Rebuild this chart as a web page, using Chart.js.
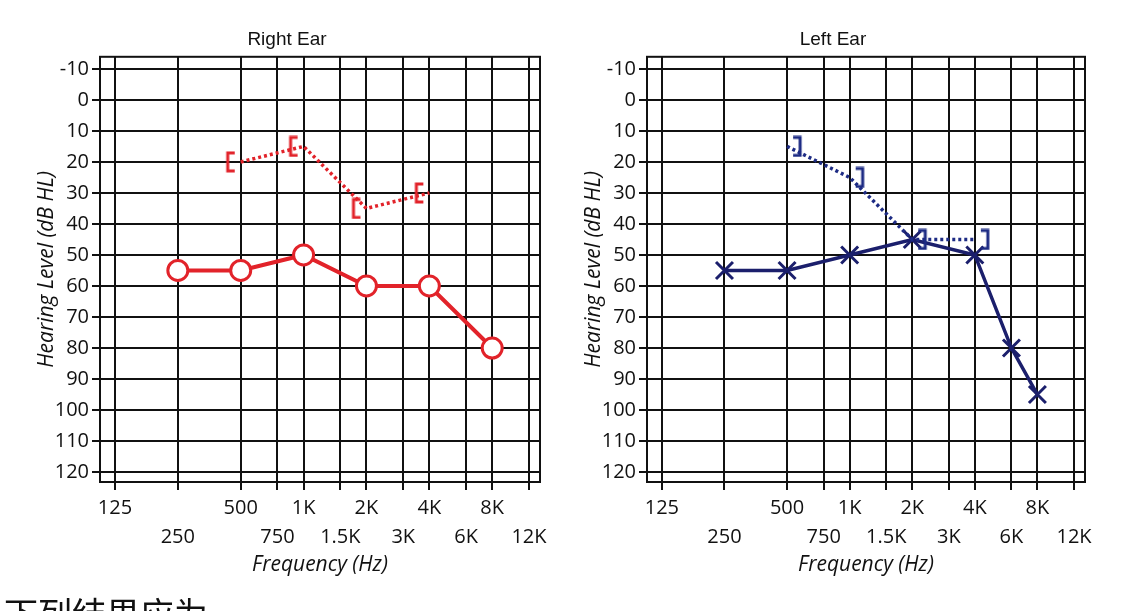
<!DOCTYPE html>
<html>
<head>
<meta charset="utf-8">
<script src="https://cdn.jsdelivr.net/npm/chart.js@4.4.0/dist/chart.umd.min.js"></script>
<style>
    html, body { margin: 0; padding: 0; background: #fff; overflow: hidden; }
    body { width: 1130px; height: 611px; position: relative; }
    .panel { position: absolute; top: 0; height: 611px; }
    #right-wrap { left: 0; width: 560px; }
    #left-wrap { left: 547px; width: 558px; }
    #caption { position: absolute; left: 4px; top: 596px; font-family: "Noto Sans CJK SC"; font-size: 34px; line-height: 1; white-space: nowrap; color: #111; }
</style>
</head>
<body>
<div class="panel" id="right-wrap"><canvas id="chart-right" width="560" height="611"></canvas></div>
<div class="panel" id="left-wrap"><canvas id="chart-left" width="558" height="611"></canvas></div>
<div id="caption">下列结果应为</div>
<script>
// axis ticks
const freqTicks = [125, 250, 500, 750, 1000, 1500, 2000, 3000, 4000, 6000, 8000, 12000];
const freqLabels = ['125', '250', '500', '750', '1K', '1.5K', '2K', '3K', '4K', '6K', '8K', '12K'];
const levelTicks = [-10, 0, 10, 20, 30, 40, 50, 60, 70, 80, 90, 100, 110, 120];

// right ear (O = air, [ = masked bone)
const rightAirFreq = [250, 500, 1000, 2000, 4000, 8000];
const rightAirDb = [55, 55, 50, 60, 60, 80];
const rightBoneFreq = [500, 1000, 2000, 4000];
const rightBoneDb = [20, 15, 35, 30];

// left ear (X = air, ] = masked bone)
const leftAirFreq = [250, 500, 1000, 2000, 4000, 6000, 8000];
const leftAirDb = [55, 55, 50, 45, 50, 80, 95];
const leftBoneFreq = [500, 1000, 2000, 4000];
const leftBoneDb = [15, 25, 45, 45];

const RED = '#e2232a';
const NAVY = '#1b1f6c';
const NAVY_DOT = '#1d2b84';
const INK = '#111';

function toPoints(xs, ys) {
    return xs.map((x, i) => ({ x, y: ys[i] }));
}

// bracket marker drawn beside the point: '[' on the left, ']' on the right
function makeBracket(color, side) {
    const c = document.createElement('canvas');
    c.width = 32;
    c.height = 22;
    const g = c.getContext('2d');
    g.strokeStyle = color;
    g.lineWidth = 3;
    const stem = side === 'left' ? 3 : 29;
    const arm = side === 'left' ? 10 : 22;
    g.beginPath();
    g.moveTo(arm, 2);
    g.lineTo(stem, 2);
    g.lineTo(stem, 20);
    g.lineTo(arm, 20);
    g.stroke();
    return c;
}

const framePlugin = {
    id: 'frame',
    beforeDatasetsDraw(chart) {
        const { ctx, chartArea: a } = chart;
        ctx.save();
        ctx.strokeStyle = INK;
        ctx.lineWidth = 2;
        ctx.strokeRect(a.left, a.top, a.right - a.left, a.bottom - a.top);
        ctx.restore();
    }
};

function buildAudiogram(canvasId, title, datasets) {
    const ctx = document.getElementById(canvasId);
    const tickFont = { family: '"Open Sans"', size: 20, lineHeight: 1.45 };
    const titleFont = { family: '"Open Sans"', size: 21, style: 'italic' };
    new Chart(ctx, {
        type: 'line',
        data: { datasets },
        plugins: [framePlugin],
        options: {
            responsive: false,
            animation: false,
            devicePixelRatio: 1,
            layout: { padding: { left: 34, right: 20, top: 0, bottom: 0 } },
            plugins: {
                legend: { display: false },
                tooltip: { enabled: false },
                title: {
                    display: true,
                    text: title,
                    color: '#111',
                    font: { family: '"Liberation Sans"', size: 19, weight: 'normal' },
                    padding: { top: 28, bottom: 6 }
                }
            },
            scales: {
                x: {
                    type: 'logarithmic',
                    min: 106,
                    max: 13550,
                    afterBuildTicks: s => { s.ticks = freqTicks.map(v => ({ value: v })); },
                    afterFit: s => { s.height = 129; },
                    grid: { color: INK, lineWidth: 2, tickLength: 8, tickColor: INK },
                    border: { display: false },
                    ticks: {
                        autoSkip: false,
                        maxRotation: 0,
                        minRotation: 0,
                        padding: 4,
                        color: INK,
                        font: tickFont,
                        callback: (v, i) => i % 2 === 0 ? [freqLabels[i], ''] : ['', freqLabels[i]]
                    },
                    title: {
                        display: true,
                        text: 'Frequency (Hz)',
                        color: INK,
                        font: titleFont,
                        padding: { top: 0, bottom: 33 }
                    }
                },
                y: {
                    type: 'linear',
                    reverse: true,
                    min: -13.9,
                    max: 123.2,
                    afterBuildTicks: s => { s.ticks = levelTicks.map(v => ({ value: v })); },
                    afterFit: s => { s.width = 66; },
                    grid: { color: INK, lineWidth: 2, tickLength: 8, tickColor: INK },
                    border: { display: false },
                    ticks: {
                        padding: 3,
                        color: INK,
                        font: { family: '"Open Sans"', size: 20 },
                        callback: v => String(v)
                    },
                    title: {
                        display: true,
                        text: 'Hearing Level (dB HL)',
                        color: INK,
                        font: titleFont,
                        padding: { top: 0, bottom: 0 }
                    }
                }
            }
        }
    });
}

buildAudiogram('chart-right', 'Right Ear', [
    {
        label: 'Bone (masked)',
        data: toPoints(rightBoneFreq, rightBoneDb),
        borderColor: RED,
        borderWidth: 3.5,
        borderDash: [3, 3],
        pointStyle: makeBracket(RED, 'left'),
        pointRadius: 6
    },
    {
        label: 'Air',
        data: toPoints(rightAirFreq, rightAirDb),
        borderColor: RED,
        borderWidth: 4,
        pointStyle: 'circle',
        pointRadius: 10,
        pointBorderWidth: 3,
        pointBorderColor: RED,
        pointBackgroundColor: '#fff'
    }
]);

buildAudiogram('chart-left', 'Left Ear', [
    {
        label: 'Bone (masked)',
        data: toPoints(leftBoneFreq, leftBoneDb),
        borderColor: NAVY_DOT,
        borderWidth: 3.5,
        borderDash: [3, 3],
        pointStyle: makeBracket(NAVY_DOT, 'right'),
        pointRadius: 6
    },
    {
        label: 'Air',
        data: toPoints(leftAirFreq, leftAirDb),
        borderColor: NAVY,
        borderWidth: 3.5,
        pointStyle: 'crossRot',
        pointRadius: 12,
        pointBorderWidth: 3,
        pointBorderColor: NAVY,
        pointBackgroundColor: NAVY
    }
]);
</script>
</body>
</html>
